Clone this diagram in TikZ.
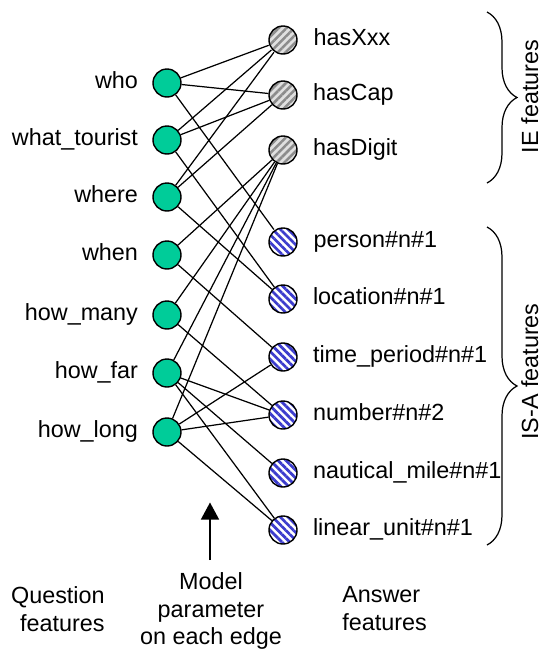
\documentclass[tikz,border=0pt]{standalone}
\usepackage{fontspec}
\setmainfont{Liberation Sans}
\usetikzlibrary{positioning,arrows.meta,patterns.meta,decorations.pathreplacing}
\definecolor{qgreen}{RGB}{0,204,153}
\definecolor{iegray}{RGB}{140,140,140}
\definecolor{isablue}{RGB}{60,60,205}
\begin{document}
\begin{tikzpicture}[
  every node/.style={font=\fontsize{13.3}{15.8}\selectfont},
  feat/.style={circle,draw,line width=0.8pt,minimum size=0.56cm,inner sep=0pt},
  qfeat/.style={feat,fill=qgreen},
  iefeat/.style={feat,preaction={fill=black!12},pattern={Lines[angle=45,distance=1.1mm,line width=0.5mm]},pattern color=iegray},
  isafeat/.style={feat,preaction={fill=white},pattern={Lines[angle=-45,distance=1.1mm,line width=0.55mm]},pattern color=isablue},
  txt/.style={inner sep=0pt,text height=1.5ex,text depth=0.25ex},
  link/.style={line width=0.7pt},
  grp/.style={line width=0.7pt,decorate,decoration={brace,amplitude=0.6cm}}]
\useasboundingbox (0,0) rectangle (10.86,-12.98);
\node[qfeat] (who) at (3.34,-1.66) {};
\node[qfeat] (what) at (3.34,-2.80) {};
\node[qfeat] (where) at (3.34,-3.94) {};
\node[qfeat] (when) at (3.34,-5.10) {};
\node[qfeat] (howmany) at (3.34,-6.30) {};
\node[qfeat] (howfar) at (3.34,-7.46) {};
\node[qfeat] (howlong) at (3.34,-8.64) {};
\node[txt,left=0.28cm of who] (whot) {who};
\node[txt,left=0.28cm of what] (whatt) {what\_tourist};
\node[txt,left=0.28cm of where] (wheret) {where};
\node[txt,left=0.28cm of when] (whent) {when};
\node[txt,left=0.28cm of howmany] (howmanyt) {how\_many};
\node[txt,left=0.28cm of howfar] (howfart) {how\_far};
\node[txt,left=0.28cm of howlong] (howlongt) {how\_long};
\node[iefeat] (hasxxx) at (5.66,-0.80) {};
\node[iefeat] (hascap) at (5.66,-1.90) {};
\node[iefeat] (hasdigit) at (5.66,-3.00) {};
\node[isafeat] (person) at (5.66,-4.84) {};
\node[isafeat] (location) at (5.66,-5.98) {};
\node[isafeat] (timeperiod) at (5.66,-7.14) {};
\node[isafeat] (number) at (5.66,-8.30) {};
\node[isafeat] (nautical) at (5.66,-9.46) {};
\node[isafeat] (linear) at (5.66,-10.60) {};
\node[txt,right=0.3cm of hasxxx] (hasxxxt) {hasXxx};
\node[txt,right=0.3cm of hascap] (hascapt) {hasCap};
\node[txt,right=0.3cm of hasdigit] (hasdigitt) {hasDigit};
\node[txt,right=0.3cm of person] (persont) {person\#n\#1};
\node[txt,right=0.3cm of location] (locationt) {location\#n\#1};
\node[txt,right=0.3cm of timeperiod] (timeperiodt) {time\_period\#n\#1};
\node[txt,right=0.3cm of number] (numbert) {number\#n\#2};
\node[txt,right=0.3cm of nautical] (nauticalt) {nautical\_mile\#n\#1};
\node[txt,right=0.3cm of linear] (lineart) {linear\_unit\#n\#1};
\draw[link] (who)--(hasxxx);
\draw[link] (who)--(hascap);
\draw[link] (who)--(person);
\draw[link] (what)--(hasxxx);
\draw[link] (what)--(hascap);
\draw[link] (what)--(location);
\draw[link] (where)--(hasxxx);
\draw[link] (where)--(hascap);
\draw[link] (where)--(location);
\draw[link] (when)--(hasdigit);
\draw[link] (when)--(timeperiod);
\draw[link] (howmany)--(hasdigit);
\draw[link] (howmany)--(number);
\draw[link] (howfar)--(hasdigit);
\draw[link] (howfar)--(number);
\draw[link] (howfar)--(nautical);
\draw[link] (howfar)--(linear);
\draw[link] (howlong)--(hasdigit);
\draw[link] (howlong)--(timeperiod);
\draw[link] (howlong)--(number);
\draw[link] (howlong)--(linear);
\coordinate (ietop) at (9.74,-0.24);
\coordinate (iebot) at (9.74,-3.66);
\coordinate (isatop) at (9.74,-4.54);
\coordinate (isabot) at (9.74,-10.90);
\draw[grp] (ietop)--(iebot);
\draw[grp] (isatop)--(isabot);
\node[inner sep=0pt,rotate=90,anchor=base] (iegrp) at (10.76,-1.93) {IE features};
\node[inner sep=0pt,rotate=90,anchor=base] (isagrp) at (10.76,-7.43) {IS-A features};
\coordinate (parbot) at (4.20,-11.20);
\coordinate (partip) at (4.20,-10.05);
\draw[line width=0.8pt,-{Triangle[width=0.36cm,length=0.34cm]}] (parbot)--(partip);
\node[inner sep=0pt,align=right,anchor=north east] (qfeats) at (2.10,-11.72) {Question\\features};
\node[inner sep=0pt,align=center,anchor=north] (param) at (4.22,-11.44) {Model\\parameter\\on each edge};
\node[inner sep=0pt,align=left,anchor=north west] (afeats) at (6.84,-11.72) {Answer\\features};
\end{tikzpicture}
\end{document}
